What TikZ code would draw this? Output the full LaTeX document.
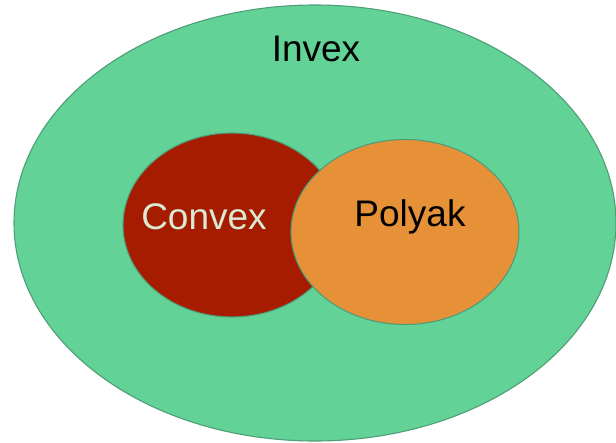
\documentclass[tikz,border=0pt]{standalone}
\usepackage{fontspec}
\setmainfont{Liberation Sans}
\usepackage{xcolor}
\usetikzlibrary{shapes.geometric}
\definecolor{invexgreen}{HTML}{62D297}
\definecolor{edgegreen}{HTML}{4F9E77}
\definecolor{convexred}{HTML}{A61C00}
\definecolor{polyakorange}{HTML}{E69138}
\definecolor{cream}{HTML}{D9EAD3}
\begin{document}
\begin{tikzpicture}[
    x=1pt, y=-1pt,
    set/.style={ellipse, draw=edgegreen, line width=1.1pt, inner sep=0pt},
    label/.style={anchor=base, inner sep=0pt, font=\fontsize{37}{40}\selectfont}
]
\useasboundingbox (0,0) rectangle (616,442);
\node[set, fill=invexgreen, minimum width=602pt, minimum height=436pt] (invex) at (315,223) {};
\node[set, fill=convexred, minimum width=218pt, minimum height=184pt] (convex) at (232,225) {};
\node[set, fill=polyakorange, minimum width=228pt, minimum height=185pt] (polyak) at (405,232) {};
\node[label] (invextext) at (316,61.5) {Invex};
\node[label, text=cream] (convextext) at (204,229) {Convex};
\node[label] (polyaktext) at (410,226.5) {Polyak};
\end{tikzpicture}
\end{document}
